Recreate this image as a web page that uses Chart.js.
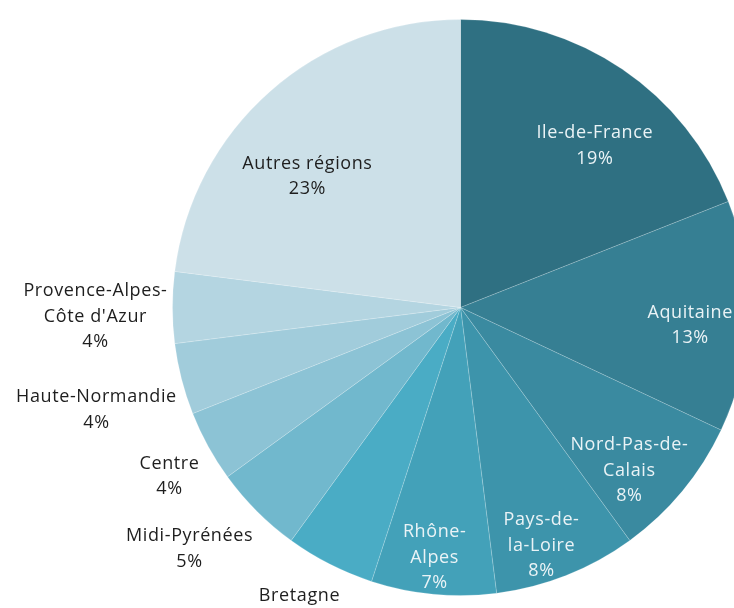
<!DOCTYPE html>
<html>
<head>
<meta charset="utf-8">
<script src="https://cdn.jsdelivr.net/npm/chart.js@4.4.1/dist/chart.umd.min.js"></script>
<style>
  html, body { margin: 0; padding: 0; background: #ffffff; overflow: hidden; width: 734px; height: 608px; }
  #c { position: absolute; left: 0; top: 0; }
</style>
</head>
<body>
<canvas id="c" width="770" height="640"></canvas>
<script>
// ---- Data ----
const categories = ['Ile-de-France', 'Aquitaine', 'Nord-Pas-de-Calais', 'Pays-de-la-Loire', 'Rhône-Alpes',
  'Bretagne', 'Midi-Pyrénées', 'Centre', 'Haute-Normandie', "Provence-Alpes-Côte d'Azur", 'Autres régions'];
const shares = [19, 13, 8, 8, 7, 5, 5, 4, 4, 4, 23];
const labelLines = [['Ile-de-France'], ['Aquitaine'], ['Nord-Pas-de-', 'Calais'], ['Pays-de-', 'la-Loire'],
  ['Rhône-', 'Alpes'], ['Bretagne'], ['Midi-Pyrénées'], ['Centre'], ['Haute-Normandie'],
  ['Provence-Alpes-', "Côte d'Azur"], ['Autres régions']];

// ---- Styles ----
const sliceColors = ['#2F7082', '#367F93', '#3A8AA0', '#3D94AB', '#43A1B9', '#4AACC5',
  '#71B8CD', '#8CC3D5', '#A1CCDB', '#B4D5E1', '#CCE0E8'];
const labelColors = ['#EAF3F6', '#EAF3F6', '#EAF3F6', '#EAF3F6', '#EAF3F6', '#1E1E1E',
  '#1E1E1E', '#1E1E1E', '#1E1E1E', '#1E1E1E', '#1E1E1E'];
// label placement: angle shift (deg) from slice middle, and distance as fraction of radius
const labelAngleShift = [5.5, 2.6, 4.4, 2.8, 0.5, 1.1, 3.3, -1.3, -1.3, -1.4, -8.0];
const labelRadiusFactor = [0.73, 0.80, 0.815, 0.873, 0.873, 1.187, 1.26, 1.168, 1.313, 1.268, 0.70];

const labelPlugin = {
  id: 'sliceLabels',
  afterDatasetsDraw(chart) {
    const ctx = chart.ctx;
    const meta = chart.getDatasetMeta(0);
    ctx.save();
    ctx.font = '18px "Open Sans", sans-serif';
    ctx.letterSpacing = '0.6px';
    ctx.textAlign = 'center';
    ctx.textBaseline = 'middle';
    const lh = 25.5;
    meta.data.forEach((arc, i) => {
      const p = arc.getProps(['x', 'y', 'startAngle', 'endAngle', 'outerRadius'], true);
      const mid = (p.startAngle + p.endAngle) / 2 + labelAngleShift[i] * Math.PI / 180;
      const r = p.outerRadius * labelRadiusFactor[i];
      const cx = p.x + Math.cos(mid) * r;
      const cy = p.y + Math.sin(mid) * r;
      const lines = labelLines[i].concat([shares[i] + '%']);
      const y0 = cy - (lines.length - 1) * lh / 2;
      ctx.fillStyle = labelColors[i];
      lines.forEach((t, k) => ctx.fillText(t, cx, y0 + k * lh));
    });
    ctx.restore();
  }
};

new Chart(document.getElementById('c'), {
  type: 'pie',
  data: {
    labels: categories,
    datasets: [{
      data: shares,
      backgroundColor: sliceColors,
      borderColor: 'rgba(255,255,255,0.18)',
      borderWidth: 1
    }]
  },
  options: {
    responsive: false,
    animation: false,
    devicePixelRatio: 1,
    layout: { padding: { left: 172, top: 19, right: 21, bottom: 44 } },
    plugins: {
      legend: { display: false },
      tooltip: { enabled: false }
    }
  },
  plugins: [labelPlugin]
});
</script>
</body>
</html>
